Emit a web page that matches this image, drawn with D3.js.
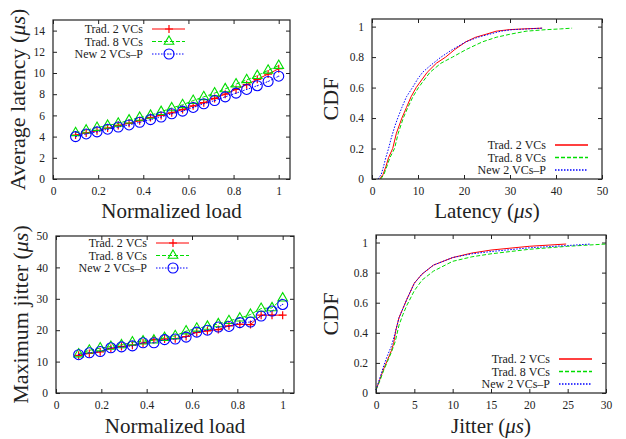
<!DOCTYPE html>
<html>
<head>
<meta charset="utf-8">
<script src="https://cdn.jsdelivr.net/npm/d3@7"></script>
<style>
  body { margin: 0; background: #fff; }
  svg text { font-family: "Liberation Serif", "Times New Roman", serif; }
  .tick text { font-size: 11.5px; fill: #222; font-family: "Liberation Serif", serif; }
  .domain { display: none; }
  .tick line { stroke: #222; }
</style>
</head>
<body>
<div id="chart"></div>
<script>
// ====== Data ======
let seriesNames = ["Trad. 2 VCs", "Trad. 8 VCs", "New 2 VCs\u2013P"];
let seriesColors = ["#ff0000", "#00dd00", "#0000ff"];
let seriesDash = [null, "4,2", "1.5,1.5"];

// normalized load (x) for the two line charts
let loads = [0.1, 0.147, 0.195, 0.242, 0.289, 0.337, 0.384, 0.432, 0.479, 0.526,
             0.574, 0.621, 0.668, 0.716, 0.763, 0.811, 0.858, 0.905, 0.953, 1.0];

// average latency (us)
let latTrad2 = [4.15, 4.35, 4.55, 4.8, 5.05, 5.25, 5.5, 5.8, 6.0, 6.25,
                6.55, 6.9, 7.2, 7.6, 8.0, 8.45, 8.9, 9.4, 9.9, 10.4];
let latTrad8 = [4.35, 4.6, 4.85, 5.05, 5.25, 5.55, 5.8, 6.0, 6.35, 6.7,
                7.0, 7.4, 7.75, 8.1, 8.5, 8.95, 9.35, 9.75, 10.25, 10.7];
let latNew2 = [4.0, 4.25, 4.45, 4.7, 4.9, 5.1, 5.35, 5.6, 5.85, 6.15,
               6.4, 6.75, 7.1, 7.4, 7.75, 8.1, 8.45, 8.8, 9.2, 9.7];

// maximum jitter (us)
let jitTrad2 = [12.0, 12.6, 13.1, 14.2, 14.8, 15.2, 15.9, 17.0, 17.2, 17.3,
                18.0, 19.3, 19.8, 20.2, 21.4, 21.9, 21.8, 24.8, 24.8, 24.8];
let jitTrad8 = [12.4, 13.6, 14.3, 14.8, 15.3, 16.2, 16.5, 16.8, 17.6, 18.2,
                19.7, 20.6, 21.2, 22.0, 23.0, 23.8, 25.0, 26.9, 27.1, 30.2];
let jitNew2 = [12.2, 12.8, 13.2, 14.4, 14.7, 15.0, 16.0, 16.0, 17.0, 17.2,
               17.8, 19.4, 20.0, 21.0, 21.2, 22.4, 22.6, 24.5, 26.1, 28.2];

// latency CDF
let latCdfTrad2X = [1.7, 2.4, 3, 3.6, 4.5, 5.3, 6.5, 7.5, 8.5, 9.6, 12, 14, 16, 18, 20.4, 22.5, 24.8, 27, 29.8, 33, 37];
let latCdfTrad2Y = [0, 0.03, 0.08, 0.14, 0.2, 0.3, 0.4, 0.47, 0.54, 0.6, 0.7, 0.76, 0.8, 0.85, 0.9, 0.93, 0.95, 0.97, 0.98, 0.985, 0.99];
let latCdfTrad8X = [1.9, 2.6, 3.2, 3.9, 4.9, 5.7, 6.8, 7.8, 8.9, 10.1, 12.6, 15, 17.5, 20.5, 24, 27, 30, 33.5, 37.8, 41, 43.5];
let latCdfTrad8Y = [0, 0.03, 0.08, 0.14, 0.2, 0.3, 0.4, 0.47, 0.54, 0.6, 0.7, 0.76, 0.8, 0.85, 0.9, 0.93, 0.95, 0.97, 0.98, 0.985, 0.99];
let latCdfNew2X = [1.3, 2, 2.5, 3, 3.6, 4.2, 5, 5.6, 6.5, 7.5, 8.8, 10, 11, 12.5, 15, 17.5, 20.4, 23, 25.5, 28, 30.5, 34, 37];
let latCdfNew2Y = [0, 0.03, 0.08, 0.14, 0.2, 0.27, 0.35, 0.4, 0.47, 0.54, 0.6, 0.66, 0.7, 0.74, 0.8, 0.85, 0.9, 0.93, 0.95, 0.97, 0.98, 0.985, 0.99];

// jitter CDF
let jitCdfTrad2X = [0, 0.5, 1, 1.5, 2, 2.3, 2.6, 3, 3.5, 4, 5, 6, 7.5, 10, 12.5, 15, 20, 24.8];
let jitCdfTrad2Y = [0.02, 0.09, 0.16, 0.22, 0.28, 0.33, 0.42, 0.5, 0.56, 0.62, 0.73, 0.79, 0.85, 0.9, 0.93, 0.95, 0.975, 0.99];
let jitCdfTrad8X = [0, 0.5, 1, 1.5, 2, 2.5, 3, 3.5, 4, 5, 6, 7.5, 10, 12.5, 15, 20, 25, 30];
let jitCdfTrad8Y = [0.02, 0.08, 0.15, 0.21, 0.27, 0.34, 0.45, 0.52, 0.58, 0.68, 0.75, 0.81, 0.875, 0.905, 0.925, 0.955, 0.975, 0.99];
let jitCdfNew2X = [0, 0.5, 1, 1.5, 2, 2.5, 3, 3.5, 4, 5, 6, 7.5, 10, 12.5, 15, 20, 25, 28];
let jitCdfNew2Y = [0.02, 0.1, 0.18, 0.25, 0.31, 0.4, 0.5, 0.56, 0.62, 0.73, 0.79, 0.85, 0.9, 0.925, 0.94, 0.965, 0.98, 0.99];

// ====== Drawing ======
let serif = "'Liberation Serif', 'Times New Roman', serif";

let svg = d3.select("#chart").append("svg")
    .attr("width", 626)
    .attr("height", 439);

function zip(xs, ys) {
    return xs.map(function(x, i) { return [x, ys[i]]; });
}

function drawMarker(g, type, color) {
    if (type === 0) {
        g.append("path").attr("d", "M-4,0H4M0,-4V4")
            .attr("stroke", color).attr("stroke-width", 1.2);
    } else if (type === 1) {
        g.append("path").attr("d", d3.symbol().type(d3.symbolTriangle).size(40)())
            .attr("fill", "none").attr("stroke", color).attr("stroke-width", 1.1);
    } else {
        g.append("circle").attr("r", 5)
            .attr("fill", "none").attr("stroke", color).attr("stroke-width", 1.1);
        g.append("circle").attr("r", 0.6).attr("fill", color);
    }
}

function drawPanel(p) {
    let x = d3.scaleLinear().domain(p.xDomain).range([p.left, p.right]);
    let y = d3.scaleLinear().domain(p.yDomain).range([p.bottom, p.top]);
    let g = svg.append("g");

    // axes with inward ticks, mirrored on top/right
    g.append("g").attr("transform", "translate(0," + p.bottom + ")")
        .call(d3.axisBottom(x).tickValues(p.xTicks).tickSize(-4).tickPadding(8).tickFormat(d3.format("")))
        .attr("font-family", serif);
    g.append("g").attr("transform", "translate(0," + p.top + ")")
        .call(d3.axisTop(x).tickValues(p.xTicks).tickSize(-4).tickFormat(""));
    g.append("g").attr("transform", "translate(" + p.left + ",0)")
        .call(d3.axisLeft(y).tickValues(p.yTicks).tickSize(-4).tickPadding(8).tickFormat(d3.format("")))
        .attr("font-family", serif);
    g.append("g").attr("transform", "translate(" + p.right + ",0)")
        .call(d3.axisRight(y).tickValues(p.yTicks).tickSize(-4).tickFormat(""));

    let line = d3.line().x(function(d) { return x(d[0]); }).y(function(d) { return y(d[1]); });

    p.series.forEach(function(s, i) {
        g.append("path")
            .datum(s)
            .attr("d", line)
            .attr("fill", "none")
            .attr("stroke", seriesColors[i])
            .attr("stroke-width", 1)
            .attr("stroke-dasharray", seriesDash[i]);
        if (p.markers) {
            s.forEach(function(d) {
                let m = g.append("g").attr("transform", "translate(" + x(d[0]) + "," + y(d[1]) + ")");
                drawMarker(m, i, seriesColors[i]);
            });
        }
    });

    // frame
    g.append("rect")
        .attr("x", p.left).attr("y", p.top)
        .attr("width", p.right - p.left).attr("height", p.bottom - p.top)
        .attr("fill", "none").attr("stroke", "#222").attr("stroke-width", 1.2);

    // legend
    seriesNames.forEach(function(name, i) {
        let ly = p.legend.y + i * p.legend.step;
        g.append("text")
            .attr("x", p.legend.x).attr("y", ly)
            .attr("dy", "0.35em")
            .attr("text-anchor", "end")
            .attr("font-family", serif)
            .style("font-size", "12px")
            .attr("fill", "#222")
            .text(name);
        g.append("line")
            .attr("x1", p.legend.x + 9).attr("x2", p.legend.x + 42)
            .attr("y1", ly).attr("y2", ly)
            .attr("stroke", seriesColors[i])
            .attr("stroke-width", p.markers ? 1 : 1.6)
            .attr("stroke-dasharray", seriesDash[i]);
        if (p.markers) {
            let m = g.append("g").attr("transform", "translate(" + (p.legend.x + 26) + "," + ly + ")");
            drawMarker(m, i, seriesColors[i]);
        }
    });

    // axis titles
    let xt = g.append("text")
        .attr("x", (p.left + p.right) / 2).attr("y", p.xTitleY)
        .attr("text-anchor", "middle")
        .attr("font-family", serif)
        .style("font-size", "21px")
        .attr("fill", "#222");
    addTitle(xt, p.xTitle);

    let yt = g.append("text")
        .attr("transform", "translate(" + p.yTitleX + "," + (p.top + p.bottom) / 2 + ") rotate(-90)")
        .attr("text-anchor", "middle")
        .attr("font-family", serif)
        .style("font-size", "22px")
        .attr("fill", "#222");
    addTitle(yt, p.yTitle);
}

function addTitle(t, label) {
    if (label.indexOf("(us)") >= 0) {
        t.append("tspan").text(label.replace("(us)", "("));
        t.append("tspan").style("font-style", "italic").text("\u03bcs");
        t.append("tspan").text(")");
    } else {
        t.text(label);
    }
}

drawPanel({
    left: 53, right: 290, top: 20, bottom: 179,
    xDomain: [0, 1.05], yDomain: [0, 15],
    xTicks: [0, 0.2, 0.4, 0.6, 0.8, 1], yTicks: [0, 2, 4, 6, 8, 10, 12, 14],
    series: [zip(loads, latTrad2), zip(loads, latTrad8), zip(loads, latNew2)],
    markers: true,
    legend: { x: 143, y: 29, step: 12.5 },
    xTitle: "Normalized load", xTitleY: 218,
    yTitle: "Average latency (us)", yTitleX: 25
});

drawPanel({
    left: 372, right: 602, top: 19, bottom: 179,
    xDomain: [0, 50], yDomain: [0, 1.05],
    xTicks: [0, 10, 20, 30, 40, 50], yTicks: [0, 0.2, 0.4, 0.6, 0.8, 1],
    series: [zip(latCdfTrad2X, latCdfTrad2Y), zip(latCdfTrad8X, latCdfTrad8Y), zip(latCdfNew2X, latCdfNew2Y)],
    markers: false,
    legend: { x: 546, y: 145, step: 12.5 },
    xTitle: "Latency (us)", xTitleY: 218,
    yTitle: "CDF", yTitleX: 338
});

drawPanel({
    left: 56, right: 294, top: 236, bottom: 393,
    xDomain: [0, 1.05], yDomain: [0, 50],
    xTicks: [0, 0.2, 0.4, 0.6, 0.8, 1], yTicks: [0, 10, 20, 30, 40, 50],
    series: [zip(loads, jitTrad2), zip(loads, jitTrad8), zip(loads, jitNew2)],
    markers: true,
    legend: { x: 147, y: 243, step: 12.5 },
    xTitle: "Normalized load", xTitleY: 433,
    yTitle: "Maximum jitter (us)", yTitleX: 28
});

drawPanel({
    left: 376, right: 606, top: 235, bottom: 393,
    xDomain: [0, 30], yDomain: [0, 1.05],
    xTicks: [0, 5, 10, 15, 20, 25, 30], yTicks: [0, 0.2, 0.4, 0.6, 0.8, 1],
    series: [zip(jitCdfTrad2X, jitCdfTrad2Y), zip(jitCdfTrad8X, jitCdfTrad8Y), zip(jitCdfNew2X, jitCdfNew2Y)],
    markers: false,
    legend: { x: 550, y: 359, step: 12.5 },
    xTitle: "Jitter (us)", xTitleY: 433,
    yTitle: "CDF", yTitleX: 338
});
</script>
</body>
</html>
